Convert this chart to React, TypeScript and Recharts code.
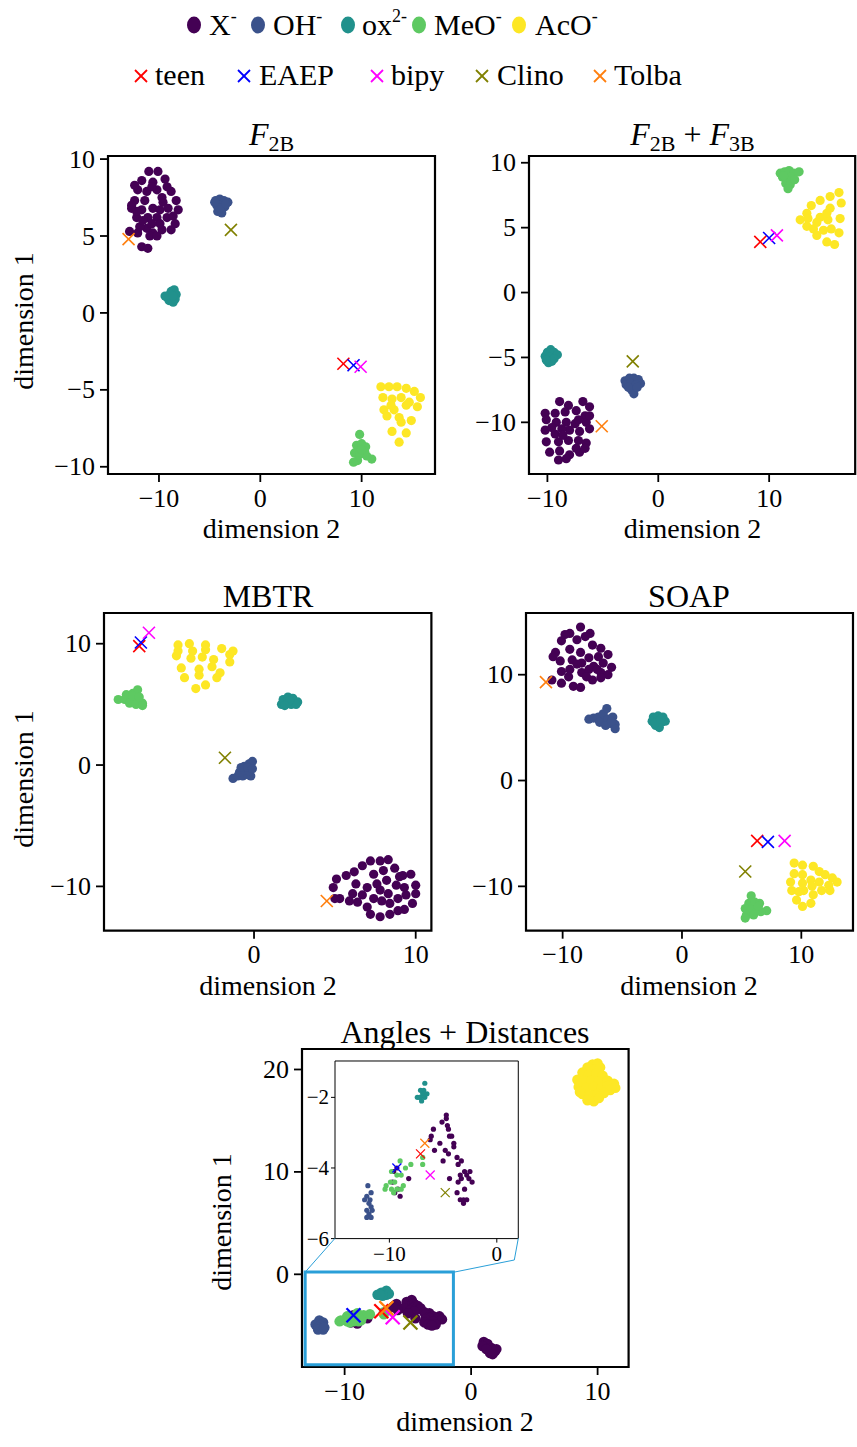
import React from 'react';
import { ScatterChart, Scatter, XAxis, YAxis, ReferenceArea } from 'recharts';

type Pt = [number, number];

const FONT = '"Liberation Serif", "DejaVu Serif", serif';

const speciesNames = ['X-', 'OH-', 'ox2-', 'MeO-', 'AcO-'];
const speciesColors = ['#440154', '#3b528b', '#21918c', '#5ec962', '#fde725'];
const ligandNames = ['teen', 'EAEP', 'bipy', 'Clino', 'Tolba'];
const ligandColors = ['#ff0000', '#0000ff', '#ff00ff', '#808000', '#ff7f0e'];

// F2B
const f2bX: Pt[] = [[-11.0,9.2],[-10.1,9.2],[-11.7,8.6],[-10.6,8.5],[-9.4,8.7],[-12.1,8.0],[-11.2,7.9],[-10.2,8.0],[-8.8,7.9],[-12.4,7.3],[-11.4,7.3],[-9.6,7.2],[-8.3,7.3],[-12.7,6.8],[-11.7,6.7],[-10.6,6.8],[-9.9,6.7],[-9.1,6.8],[-8.1,6.7],[-12.2,6.2],[-11.1,6.2],[-10.2,6.2],[-9.2,6.2],[-8.6,6.3],[-12.9,5.3],[-12.1,5.2],[-11.2,5.5],[-10.6,5.2],[-9.7,5.4],[-8.8,5.4],[-10.9,5.0],[-10.2,5.0],[-11.7,4.3],[-11.1,4.2],[-10.7,8.2],[-9.7,7.5],[-9.2,8.2],[-11.9,5.6],[-12.4,8.3],[-12.2,6.6],[-12.7,7.0],[-8.4,5.8],[-9.9,5.8],[-10.7,5.8],[-11.6,6.0]];
const f2bOH: Pt[] = [[-4.4,7.3],[-4.0,7.4],[-3.6,7.3],[-3.2,7.2],[-4.3,7.0],[-3.9,7.0],[-3.5,6.9],[-4.2,6.6],[-3.8,6.5],[-4.0,6.8],[-3.4,7.1],[-4.5,7.2]];
const f2bOx: Pt[] = [[-9.2,1.0],[-8.8,1.4],[-8.5,1.5],[-8.3,1.2],[-9.0,0.8],[-8.6,0.7],[-8.4,0.9],[-8.9,1.2],[-9.4,1.1],[-8.6,1.1]];
const f2bMeO: Pt[] = [[9.8,-7.9],[9.5,-8.6],[10.0,-8.5],[10.4,-8.7],[9.3,-9.1],[9.8,-9.2],[10.3,-9.0],[11.0,-9.5],[9.6,-9.6],[9.2,-9.7],[10.5,-9.3],[10.0,-8.9]];
const f2bAcO: Pt[] = [[11.9,-4.8],[12.7,-4.8],[13.5,-4.8],[14.4,-4.9],[15.2,-5.1],[15.8,-5.5],[12.1,-5.5],[13.0,-5.6],[13.9,-5.5],[14.7,-5.8],[15.5,-6.1],[12.2,-6.3],[13.2,-6.3],[14.4,-6.0],[12.5,-6.7],[13.7,-6.8],[14.9,-7.0],[13.0,-7.7],[13.9,-7.1],[14.4,-7.8],[13.7,-8.4],[12.9,-6.0]];
const f2bLig: Pt[] = [[8.2,-3.3],[9.2,-3.4],[9.9,-3.5],[-2.9,5.4],[-13.0,4.8]];

// F2B + F3B
const f3bX: Pt[] = [[-8.9,-8.4],[-8.1,-8.7],[-6.8,-8.4],[-6.2,-8.8],[-10.2,-9.3],[-9.3,-9.3],[-8.4,-9.2],[-7.4,-9.1],[-6.6,-9.5],[-10.1,-9.8],[-9.2,-10.0],[-8.3,-10.0],[-7.5,-10.1],[-6.5,-10.0],[-10.2,-10.6],[-9.3,-10.9],[-8.0,-10.6],[-7.1,-10.7],[-6.2,-10.5],[-10.1,-11.5],[-9.0,-11.5],[-8.1,-11.4],[-7.2,-11.4],[-6.5,-11.6],[-9.8,-12.3],[-8.9,-12.2],[-8.0,-12.5],[-7.1,-12.3],[-9.0,-12.9],[-8.3,-12.8],[-7.4,-12.0],[-6.6,-12.0],[-9.6,-10.4],[-8.7,-10.5],[-7.2,-9.8],[-6.2,-9.5],[-8.6,-11.0]];
const f3bOH: Pt[] = [[-3.0,-6.8],[-2.6,-6.6],[-2.2,-6.6],[-1.8,-6.7],[-1.6,-7.0],[-2.9,-7.1],[-2.5,-7.0],[-2.0,-7.1],[-2.4,-7.5],[-2.2,-7.8],[-2.7,-7.3],[-1.9,-7.3]];
const f3bOx: Pt[] = [[-10.0,-4.6],[-9.7,-4.4],[-9.4,-4.6],[-9.1,-4.8],[-10.2,-4.9],[-9.8,-5.0],[-9.4,-5.1],[-9.9,-5.4],[-9.6,-5.3],[-10.1,-5.2]];
const f3bMeO: Pt[] = [[11.0,9.2],[11.4,9.3],[11.8,9.4],[12.2,9.2],[12.7,9.3],[11.2,8.9],[11.6,8.8],[12.0,8.9],[11.5,8.4],[11.9,8.3],[11.7,8.0],[12.3,8.7],[11.3,9.0]];
const f3bAcO: Pt[] = [[16.3,7.7],[15.5,7.4],[14.6,7.1],[13.8,6.7],[13.4,6.1],[12.8,5.6],[13.4,5.1],[14.3,4.4],[15.2,3.9],[15.9,3.7],[16.3,4.6],[16.4,5.7],[16.5,6.9],[15.5,6.5],[14.6,5.8],[14.3,5.4],[15.3,5.6],[15.6,4.9],[14.9,4.8],[14.0,4.9],[13.5,5.7],[15.2,6.1]];
const f3bLig: Pt[] = [[9.2,3.9],[10.0,4.2],[10.7,4.4],[-2.3,-5.3],[-5.1,-10.3]];

// MBTR
const mbtrX: Pt[] = [[4.9,-10.1],[5.1,-9.4],[5.7,-9.1],[6.2,-8.8],[6.7,-8.3],[7.2,-7.9],[7.8,-7.9],[8.3,-7.8],[8.7,-8.5],[9.2,-9.1],[9.7,-9.0],[10.0,-9.9],[10.0,-10.6],[9.8,-11.4],[9.3,-11.9],[8.9,-12.0],[8.4,-12.3],[7.8,-12.5],[7.2,-12.3],[7.0,-11.7],[6.4,-11.3],[5.9,-11.2],[5.3,-11.0],[5.0,-11.0],[6.1,-10.6],[6.7,-10.7],[7.4,-11.0],[7.9,-11.2],[8.4,-11.4],[8.9,-11.0],[9.4,-10.7],[7.0,-10.1],[7.6,-9.8],[8.2,-9.5],[8.8,-9.9],[9.3,-10.1],[7.4,-9.0],[8.0,-8.7],[6.3,-9.8],[7.8,-10.3],[8.3,-10.6],[9.0,-9.2]];
const mbtrOH: Pt[] = [[-1.3,-1.1],[-1.0,-0.9],[-0.7,-0.9],[-0.4,-0.8],[-0.2,-0.9],[-0.9,-0.6],[-0.6,-0.4],[-0.3,-0.5],[-0.6,-0.1],[-0.3,0.1],[-0.1,0.3],[-0.8,-0.2],[-0.4,-0.2],[-0.1,-0.3]];
const mbtrOx: Pt[] = [[1.8,5.4],[2.1,5.6],[2.4,5.5],[2.7,5.2],[1.7,5.0],[2.0,5.1],[2.3,5.0],[2.6,5.0],[2.2,5.3],[1.9,4.9]];
const mbtrMeO: Pt[] = [[-8.4,5.4],[-7.9,5.8],[-7.5,5.9],[-7.2,6.2],[-8.0,5.4],[-7.6,5.4],[-7.3,5.6],[-7.7,5.1],[-7.3,5.0],[-6.9,5.1],[-6.9,4.9],[-7.5,5.7],[-7.1,5.6]];
const mbtrAcO: Pt[] = [[-4.7,9.9],[-4.0,10.0],[-3.0,9.9],[-2.0,9.6],[-1.3,9.4],[-4.8,9.0],[-3.9,8.8],[-3.2,8.9],[-2.5,8.7],[-1.5,8.5],[-4.5,8.0],[-3.4,7.9],[-2.6,8.1],[-2.1,7.6],[-4.3,7.2],[-3.4,7.4],[-2.3,7.2],[-3.6,6.3],[-3.0,6.6],[-4.7,9.4],[-3.8,9.4],[-1.5,9.1],[-3.0,9.5]];
const mbtrLig: Pt[] = [[-7.1,9.8],[-7.0,10.1],[-6.5,10.9],[-1.8,0.6],[4.5,-11.2]];

// SOAP
const soapX: Pt[] = [[-8.5,14.5],[-7.7,13.9],[-9.4,13.9],[-10.1,13.2],[-8.8,13.3],[-7.5,12.8],[-6.8,12.5],[-10.6,12.1],[-9.4,12.4],[-8.5,12.1],[-7.8,11.6],[-7.0,11.7],[-6.2,11.9],[-10.2,11.3],[-9.2,11.4],[-8.4,11.1],[-7.4,10.8],[-6.6,11.1],[-5.9,10.7],[-10.1,10.3],[-9.4,10.5],[-8.4,10.2],[-7.8,10.5],[-6.8,10.2],[-6.2,10.0],[-10.9,9.5],[-10.1,9.2],[-9.1,8.9],[-8.5,8.8],[-7.5,9.5],[-6.8,9.7],[-9.5,9.8],[-8.0,9.8],[-10.8,11.7],[-9.8,13.8],[-8.1,13.6],[-8.8,11.0],[-7.1,10.5]];
const soapOH: Pt[] = [[-7.8,5.8],[-7.4,5.9],[-7.0,6.0],[-6.6,6.3],[-6.3,6.8],[-6.6,5.6],[-6.2,5.8],[-5.8,6.0],[-6.0,5.4],[-5.6,5.3],[-5.6,4.9],[-6.9,5.5],[-6.4,5.2],[-5.9,5.6]];
const soapOx: Pt[] = [[-2.4,6.0],[-2.0,6.1],[-1.6,6.0],[-1.4,5.6],[-2.5,5.6],[-2.1,5.6],[-1.7,5.5],[-2.2,5.2],[-1.9,5.0],[-2.3,5.4],[-1.8,5.8]];
const soapMeO: Pt[] = [[5.8,-10.9],[5.6,-11.6],[6.1,-11.5],[6.5,-11.6],[5.3,-12.1],[5.8,-12.2],[6.3,-12.3],[7.1,-12.3],[5.4,-12.7],[6.0,-12.7],[6.6,-12.4],[5.3,-13.0],[6.4,-11.9]];
const soapAcO: Pt[] = [[9.4,-7.8],[10.1,-8.0],[11.0,-8.1],[11.5,-8.6],[12.0,-8.9],[12.6,-9.2],[13.0,-9.6],[12.3,-9.9],[11.7,-10.4],[11.0,-10.8],[10.8,-11.6],[10.1,-11.9],[9.6,-11.3],[9.2,-10.4],[9.1,-9.6],[9.4,-8.8],[10.1,-8.9],[10.8,-9.4],[10.1,-9.7],[11.5,-9.6],[10.2,-10.4],[10.9,-10.0],[12.4,-10.4],[9.8,-10.5]];
const soapLig: Pt[] = [[6.3,-5.7],[7.2,-5.8],[8.6,-5.7],[5.3,-8.6],[-11.4,9.3]];

// Angles + Distances
const adX: Pt[] = [[-4.7,-2.5],[-4.7,-2.6],[-5.1,-2.7],[-4.6,-2.8],[-4.5,-2.9],[-5.9,-2.9],[-4.4,-3.1],[-4.2,-3.1],[-6.1,-3.1],[-6.2,-3.2],[-5.3,-3.3],[-4.0,-3.3],[-4.0,-3.4],[-5.8,-3.5],[-4.8,-3.5],[-4.5,-3.6],[-5.0,-3.8],[-3.7,-3.7],[-3.3,-3.8],[-3.6,-3.9],[-3.0,-4.1],[-2.5,-4.1],[-3.4,-4.2],[-2.8,-4.2],[-3.3,-4.3],[-2.6,-4.3],[-2.3,-4.4],[-3.6,-4.4],[-3.0,-4.6],[-3.7,-4.7],[-3.4,-4.9],[-3.1,-4.9],[-2.8,-4.9],[-3.1,-5.0],[-4.4,-4.3],[-8.2,-4.3],[-9.0,-4.8],[-9.2,-4.6],[-9.6,-4.1],[-9.3,-4.0],[-9.5,-4.7],[-9.7,-4.4],[1.0,-6.6],[1.3,-6.8],[0.9,-7.0],[1.6,-7.2],[1.9,-7.5],[1.5,-7.7],[1.2,-7.3],[2.0,-7.3],[1.7,-7.8]];
const adOH: Pt[] = [[-12.0,-4.5],[-11.7,-4.7],[-12.1,-4.8],[-12.3,-4.9],[-11.8,-4.9],[-11.9,-5.0],[-11.7,-5.1],[-12.1,-5.2],[-11.9,-5.3],[-12.1,-5.4],[-11.7,-5.4],[-11.6,-5.2]];
const adOx: Pt[] = [[-6.7,-1.6],[-6.8,-1.8],[-7.1,-1.8],[-6.9,-1.9],[-7.4,-2.0],[-7.1,-2.0],[-6.7,-2.0],[-6.5,-1.9],[-7.0,-2.1],[-7.2,-2.0]];
const adMeO: Pt[] = [[-9.0,-3.8],[-8.5,-4.0],[-8.0,-3.9],[-9.8,-4.1],[-9.3,-4.2],[-8.9,-4.2],[-9.9,-4.4],[-9.5,-4.4],[-10.3,-4.5],[-9.8,-4.6],[-9.3,-4.6],[-8.9,-4.6],[-10.4,-4.6],[-9.6,-4.7],[-8.7,-4.5],[-6.9,-3.7],[-6.9,-3.9]];
const adAcO: Pt[] = [[9.6,20.5],[10.0,20.6],[9.2,20.2],[9.8,20.0],[10.2,20.2],[8.8,19.7],[9.3,19.5],[9.9,19.6],[10.4,19.4],[8.4,19.0],[8.9,18.9],[9.5,18.9],[10.1,18.8],[10.8,18.9],[11.3,18.6],[8.5,18.3],[9.1,18.2],[9.7,18.3],[10.3,18.2],[10.8,18.4],[11.0,18.0],[8.8,17.6],[9.4,17.5],[10.0,17.6],[10.5,17.7],[9.2,17.0],[9.7,16.9],[10.1,17.2],[8.6,17.8],[11.4,18.2]];
const adLig: Pt[] = [[-7.1,-3.6],[-9.3,-4.0],[-6.2,-4.2],[-4.8,-4.7],[-6.7,-3.3]];

const fmt = (v: number) => (v < 0 ? '\u2212' + Math.abs(v) : String(v));
const toXY = (pts: Pt[]) => pts.map(([x, y]) => ({ x, y }));

const dot = (color: string, r: number) => (p: any) => <circle cx={p.cx} cy={p.cy} r={r} fill={color} />;
const cross = (color: string, r: number, w: number) => (p: any) => (
  <g stroke={color} strokeWidth={w}>
    <line x1={p.cx - r} y1={p.cy - r} x2={p.cx + r} y2={p.cy + r} />
    <line x1={p.cx - r} y1={p.cy + r} x2={p.cx + r} y2={p.cy - r} />
  </g>
);

// serif tick text, drawn at the positions recharts hands over
const tickText = (size: number, onX: boolean) => (p: any) => (
  <text x={p.x} y={p.y} dy={onX ? size * 0.68 : size * 0.33} textAnchor={onX ? 'middle' : 'end'}
    fontSize={size} fontFamily={FONT} fill="#000" style={{ fontFamily: FONT }}>
    {fmt(p.payload.value)}
  </text>
);

interface PanelProps {
  box: [number, number, number, number];
  xDomain: [number, number];
  yDomain: [number, number];
  xTicks: number[];
  yTicks: number[];
  clusters: Pt[][];
  ligands: Pt[];
  dotR: number;
  crossR: number;
  crossW: number;
  fontSize: number;
  tickSize: number;
  frameW: number;
  yw?: number;
  xh?: number;
  highlight?: [number, number, number, number];
}

function Panel(props: PanelProps) {
  const { box, xDomain, yDomain, xTicks, yTicks, clusters, ligands, dotR, crossR, crossW, fontSize, tickSize, frameW, highlight } = props;
  const yw = props.yw ?? 100;
  const xh = props.xh ?? 50;
  const [L, T, R, B] = box;
  const mt = 10;
  const mr = 10;
  const gap = frameW > 1 ? 7 : 4;
  const tickLine = { stroke: '#000', strokeWidth: frameW > 1 ? 1.8 : 1 };
  const inside = (p: Pt) => p[0] >= xDomain[0] && p[0] <= xDomain[1] && p[1] >= yDomain[0] && p[1] <= yDomain[1];
  return (
    <div style={{ position: 'absolute', left: L - yw, top: T - mt }}>
      <ScatterChart width={R - L + yw + mr} height={B - T + mt + xh} margin={{ top: mt, right: mr, bottom: 0, left: 0 }}>
        <XAxis type="number" dataKey="x" domain={xDomain} allowDataOverflow ticks={xTicks} interval={0} height={xh}
          axisLine={false} tickLine={tickLine} tickSize={tickSize} tickMargin={gap} tick={tickText(fontSize, true)} />
        <YAxis type="number" dataKey="y" domain={yDomain} allowDataOverflow ticks={yTicks} interval={0} width={yw}
          axisLine={false} tickLine={tickLine} tickSize={tickSize} tickMargin={frameW > 1 ? 5 : 2} tick={tickText(fontSize, false)} />
        {clusters.map((pts, i) => (
          <Scatter key={speciesNames[i]} name={speciesNames[i]} data={toXY(pts.filter(inside))}
            fill={speciesColors[i]} isAnimationActive={false} shape={dot(speciesColors[i], dotR)} />
        ))}
        {ligands.map((p, i) => (
          <Scatter key={ligandNames[i]} name={ligandNames[i]} data={toXY([p].filter(inside))}
            fill={ligandColors[i]} isAnimationActive={false} shape={cross(ligandColors[i], crossR, crossW)} />
        ))}
        <ReferenceArea x1={xDomain[0]} x2={xDomain[1]} y1={yDomain[0]} y2={yDomain[1]} fill="none" fillOpacity={0}
          stroke="#000" strokeWidth={frameW} />
        {highlight && (
          <ReferenceArea x1={highlight[0]} x2={highlight[1]} y1={highlight[2]} y2={highlight[3]} fill="none" fillOpacity={0}
            stroke="#2a9fd8" strokeWidth={3} />
        )}
      </ScatterChart>
    </div>
  );
}

const sub = (s: string) => <tspan fontSize={22} dy={6}>{s}</tspan>;

export default function App() {
  const big = { dotR: 4.6, crossR: 6, crossW: 1.6, fontSize: 26, tickSize: 8, frameW: 2.2 };
  return (
    <div style={{ position: 'absolute', left: 0, top: 0, width: 857, height: 1447, background: '#fff', fontFamily: FONT }}>
      <Panel {...big} box={[108, 156, 435, 474]} xDomain={[-15.03, 17.24]} yDomain={[-10.47, 10.2]}
        xTicks={[-10, 0, 10]} yTicks={[-10, -5, 0, 5, 10]}
        clusters={[f2bX, f2bOH, f2bOx, f2bMeO, f2bAcO]} ligands={f2bLig} />
      <Panel {...big} box={[529.3, 156, 855.5, 474]} xDomain={[-11.66, 17.76]} yDomain={[-13.98, 10.52]}
        xTicks={[-10, 0, 10]} yTicks={[-10, -5, 0, 5, 10]}
        clusters={[f3bX, f3bOH, f3bOx, f3bMeO, f3bAcO]} ligands={f3bLig} />
      <Panel {...big} box={[104.3, 613.3, 431.7, 931]} xDomain={[-9.28, 10.97]} yDomain={[-13.65, 12.53]}
        xTicks={[0, 10]} yTicks={[-10, 0, 10]}
        clusters={[mbtrX, mbtrOH, mbtrOx, mbtrMeO, mbtrAcO]} ligands={mbtrLig} />
      <Panel {...big} box={[525.7, 613.3, 852.7, 931]} xDomain={[-13.07, 14.33]} yDomain={[-14.19, 15.83]}
        xTicks={[-10, 0, 10]} yTicks={[-10, 0, 10]}
        clusters={[soapX, soapOH, soapOx, soapMeO, soapAcO]} ligands={soapLig} />
      <Panel {...big} dotR={5.2} crossR={7} crossW={2.2} box={[301.7, 1049.3, 628.3, 1367.3]}
        xDomain={[-13.37, 12.45]} yDomain={[-9.05, 22.0]} xTicks={[-10, 0, 10]} yTicks={[0, 10, 20]}
        clusters={[adX, adOH, adOx, adMeO, adAcO]} ligands={adLig} highlight={[-13.12, -1.4, -8.82, 0.23]} />
      <Panel dotR={2.6} crossR={4.5} crossW={1.2} fontSize={21} tickSize={4} frameW={1} yw={40} xh={30}
        box={[335, 1060.7, 518.3, 1238.3]} xDomain={[-15.06, 2.0]} yDomain={[-6, -0.97]}
        xTicks={[-10, 0]} yTicks={[-6, -4, -2]}
        clusters={[adX, adOH, adOx, adMeO, adAcO]} ligands={adLig} />

      <svg width={857} height={1447} style={{ position: 'absolute', left: 0, top: 0, pointerEvents: 'none' }}
        fontFamily={FONT} fill="#000">
        {/* legend */}
        <ellipse cx={194} cy={25} rx={7} ry={8.5} fill={speciesColors[0]} />
        <text x={209} y={35} fontSize={30}>X<tspan fontSize={18} dy={-13}>-</tspan></text>
        <ellipse cx={258} cy={25} rx={7} ry={8.5} fill={speciesColors[1]} />
        <text x={273} y={35} fontSize={30}>OH<tspan fontSize={18} dy={-13}>-</tspan></text>
        <ellipse cx={348} cy={25} rx={7} ry={8.5} fill={speciesColors[2]} />
        <text x={362} y={35} fontSize={30}>ox<tspan fontSize={18} dy={-13}>2-</tspan></text>
        <ellipse cx={419} cy={25} rx={7} ry={8.5} fill={speciesColors[3]} />
        <text x={434} y={35} fontSize={30}>MeO<tspan fontSize={18} dy={-13}>-</tspan></text>
        <ellipse cx={519} cy={25} rx={7} ry={8.5} fill={speciesColors[4]} />
        <text x={535} y={35} fontSize={30}>AcO<tspan fontSize={18} dy={-13}>-</tspan></text>

        {[141, 244, 377, 482, 600].map((cx, i) => (
          <g key={ligandNames[i]} stroke={ligandColors[i]} strokeWidth={1.8}>
            <line x1={cx - 6} y1={70} x2={cx + 6} y2={82} />
            <line x1={cx - 6} y1={82} x2={cx + 6} y2={70} />
          </g>
        ))}
        {[155, 259, 391, 497, 614].map((x, i) => (
          <text key={ligandNames[i]} x={x} y={85} fontSize={30}>{ligandNames[i]}</text>
        ))}

        {/* titles */}
        <text x={271.5} y={145} fontSize={32} textAnchor="middle"><tspan fontStyle="italic">F</tspan>{sub('2B')}</text>
        <text x={692.5} y={145} fontSize={32} textAnchor="middle">
          <tspan fontStyle="italic">F</tspan>{sub('2B')}<tspan dy={-6}>{'\u00a0+\u00a0'}</tspan>
          <tspan fontStyle="italic">F</tspan>{sub('3B')}
        </text>
        <text x={268} y={606.7} fontSize={32} textAnchor="middle">MBTR</text>
        <text x={689} y={606.7} fontSize={32} textAnchor="middle">SOAP</text>
        <text x={465} y={1043.3} fontSize={32} textAnchor="middle">Angles + Distances</text>

        {/* axis labels */}
        <text x={271.5} y={538} fontSize={28} textAnchor="middle">dimension 2</text>
        <text x={692.5} y={538} fontSize={28} textAnchor="middle">dimension 2</text>
        <text x={268} y={995} fontSize={28} textAnchor="middle">dimension 2</text>
        <text x={689} y={995} fontSize={28} textAnchor="middle">dimension 2</text>
        <text x={465} y={1431} fontSize={28} textAnchor="middle">dimension 2</text>
        <text x={33} y={321} fontSize={28} textAnchor="middle" transform="rotate(-90 33 321)">dimension 1</text>
        <text x={33} y={779} fontSize={28} textAnchor="middle" transform="rotate(-90 33 779)">dimension 1</text>
        <text x={231} y={1222} fontSize={28} textAnchor="middle" transform="rotate(-90 231 1222)">dimension 1</text>

        {/* inset connectors */}
        <g stroke="#2a9fd8" strokeWidth={1} fill="none">
          <line x1={305} y1={1272.3} x2={335} y2={1238.3} />
          <polyline points="453.3,1272.3 514.3,1260 518.3,1238.3" />
        </g>
      </svg>
    </div>
  );
}
